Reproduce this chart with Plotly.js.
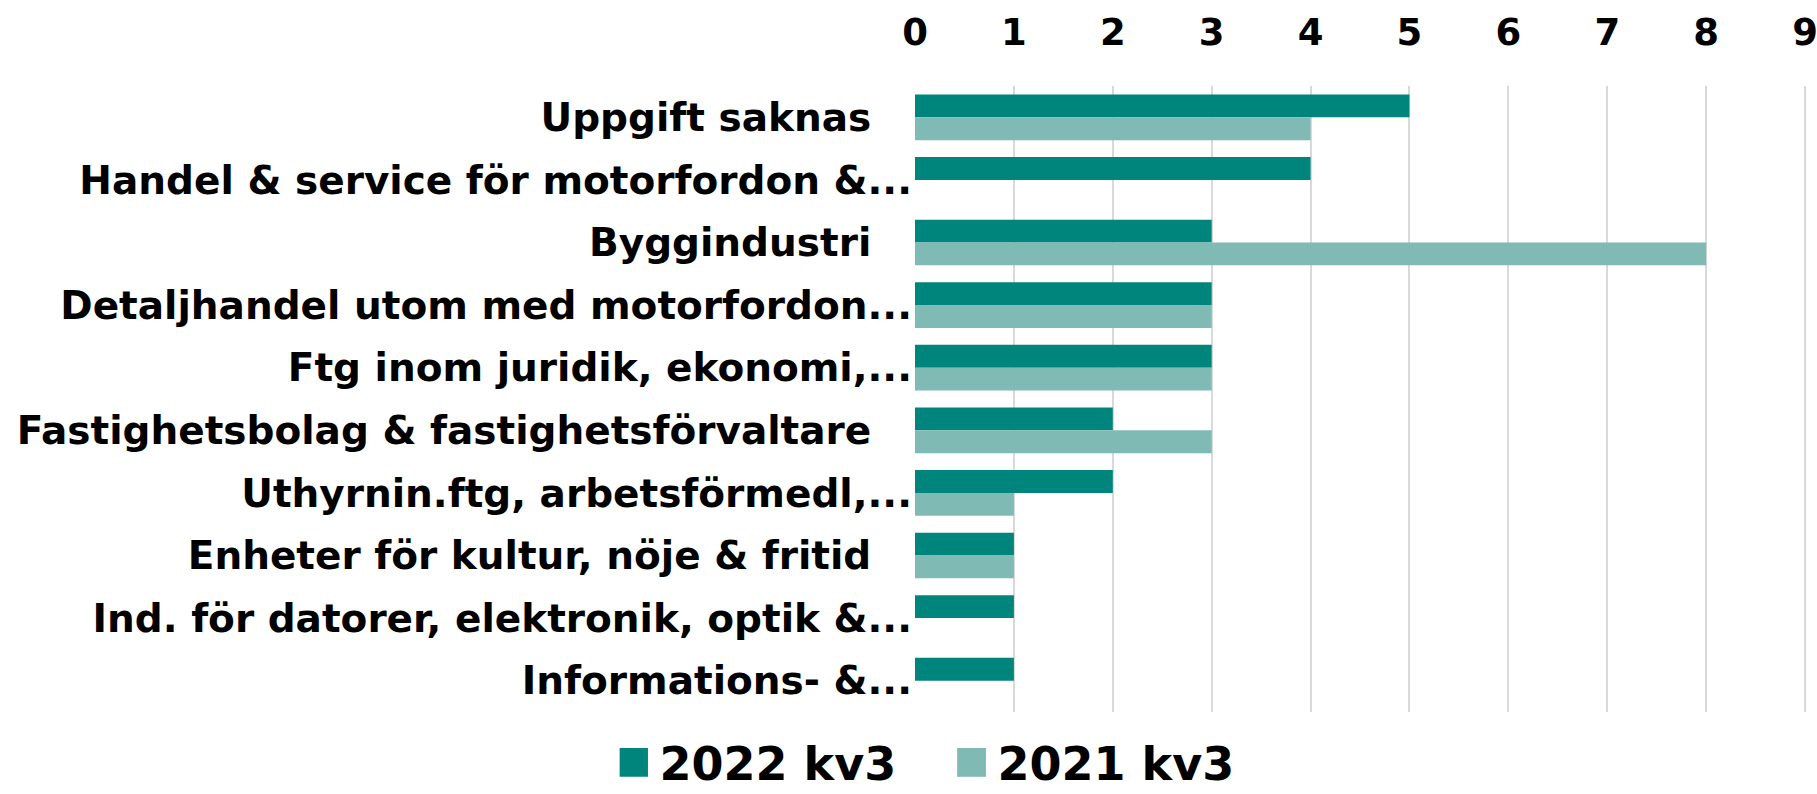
<!DOCTYPE html>
<html><head><meta charset="utf-8">
<script src="https://cdn.plot.ly/plotly-3.0.1.min.js"></script>
<style>html,body{margin:0;padding:0;background:#fff}#chart{width:1817px;height:794px}</style>
</head><body><div id="chart"></div>
<script>
const categories = [
  "Uppgift saknas\u00a0\u00a0\u00a0",
  "Handel & service för motorfordon &...",
  "Byggindustri\u00a0\u00a0\u00a0",
  "Detaljhandel utom med motorfordon...",
  "Ftg inom juridik, ekonomi,...",
  "Fastighetsbolag & fastighetsförvaltare\u00a0\u00a0\u00a0",
  "Uthyrnin.ftg, arbetsförmedl,...",
  "Enheter för kultur, nöje & fritid\u00a0\u00a0\u00a0",
  "Ind. för datorer, elektronik, optik &...",
  "Informations- &..."
];
const values2022 = [5, 4, 3, 3, 3, 2, 2, 1, 1, 1];
const values2021 = [4, null, 8, 3, 3, 3, 1, 1, null, null];
const tickValues = [0,1,2,3,4,5,6,7,8,9];

const FONT = "DejaVu Sans, sans-serif";
const traces = [
  {type:'bar', orientation:'h', name:'2022 kv3', y:categories, x:values2022,
   marker:{color:'#00857d'}, hoverinfo:'none'},
  {type:'bar', orientation:'h', name:'2021 kv3', y:categories, x:values2021,
   marker:{color:'#80bab4'}, hoverinfo:'none'}
];
const layout = {
  width:1817, height:794,
  margin:{l:915, r:7, t:86, b:82},
  barmode:'group', bargap:0.27, bargroupgap:0,
  paper_bgcolor:'#fff', plot_bgcolor:'#fff',
  font:{family:FONT, color:'#000'},
  xaxis:{side:'top', range:[0,9.05], tickvals:tickValues, showgrid:true, gridcolor:'#d9d9d9', gridwidth:2,
         zeroline:false, showline:false, ticks:'', ticklabelstandoff:33, ticklabeloverflow:'allow',
         tickfont:{family:FONT, size:37, weight:'bold', color:'#000'}},
  yaxis:{type:'category', autorange:'reversed', showgrid:false, zeroline:false, showline:false, ticks:'',
         ticklabelstandoff:2,
         tickfont:{family:FONT, size:39, weight:'bold', color:'#000'}},
  showlegend:true,
  legend:{orientation:'h', xref:'container', yref:'container', x:0.527, xanchor:'center', y:0, yanchor:'bottom',
          font:{family:FONT, size:46, weight:'bold', color:'#000'}, itemwidth:30,
          entrywidth:293, entrywidthmode:'pixels', traceorder:'normal'}
};
Plotly.newPlot('chart', traces, layout, {staticPlot:true, displayModeBar:false}).then(gd => {
  gd.querySelectorAll('.legendpoints path').forEach(p => {
    const t = p.getAttribute('transform') || '';
    p.setAttribute('transform', t + ' translate(-6,0) scale(2.4)');
  });
  const lg = gd.querySelector('g.legend');
  if (lg) {
    const t = lg.getAttribute('transform') || '';
    lg.setAttribute('transform', t + ' translate(0,5)');
  }
});
</script></body></html>
